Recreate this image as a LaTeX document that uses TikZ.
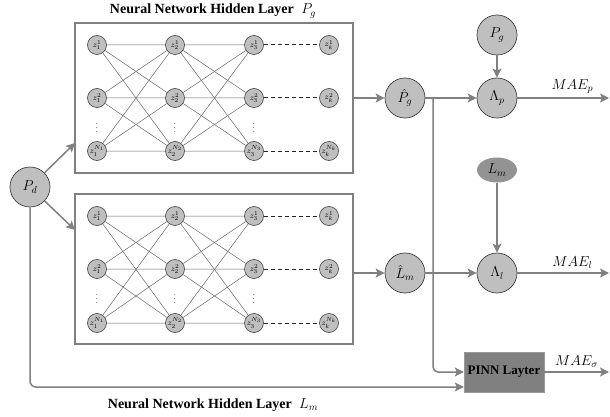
\documentclass[tikz,border=0pt]{standalone}
\usepackage{amsmath,amssymb}
\usepackage{fontspec}
\newfontfamily\titlefont{Liberation Serif}
\usepackage{tikz}
\usetikzlibrary{arrows.meta,shapes.geometric,calc}

\tikzset{
	zn/.style={circle, draw=black!75, fill=gray!50, line width=0.6pt, minimum size=19pt, inner sep=0pt, font=\fontsize{8}{8}\selectfont},
	bignode/.style={circle, draw=black!75, fill=gray!50, line width=0.7pt, minimum size=40pt, inner sep=0pt, font=\fontsize{14}{16}\selectfont},
	netbox/.style={draw=gray, line width=1.3pt, minimum width=278pt, minimum height=150pt},
	link/.style={draw=black!60, line width=0.5pt},
	dashlink/.style={draw=black!85, line width=1pt, dash pattern=on 4pt off 3pt},
	flow/.style={draw=gray, line width=1.5pt, -{Stealth[length=9pt,width=9pt,inset=2pt]}},
	maelabel/.style={font=\fontsize{14}{16}\selectfont},
}

\begin{document}
\begin{tikzpicture}[x=1pt,y=-1pt]
	\useasboundingbox (0,0) rectangle (610,417);

	% Boxes round the two hidden layers
	\node[netbox] (boxg) at (214,98) {};
	\node[netbox] (boxl) at (214,269) {};
	\node[font=\titlefont\bfseries\fontsize{14}{16}\selectfont] (titleg) at (213,11) {Neural Network Hidden Layer \;$P_g$};
	\node[font=\titlefont\bfseries\fontsize{14}{16}\selectfont] (titlel) at (213,405) {Neural Network Hidden Layer \;$L_m$};

	% Network for P_g
	\node[zn] (g11) at (97,45) {$z_1^1$};
	\node[zn] (g12) at (97,98) {$z_1^2$};
	\node[zn] (g1n) at (97,151) {$z_1^{N_1}$};
	\node[zn] (g21) at (175,45) {$z_2^1$};
	\node[zn] (g22) at (175,98) {$z_2^2$};
	\node[zn] (g2n) at (175,151) {$z_2^{N_2}$};
	\node[zn] (g31) at (254,45) {$z_3^1$};
	\node[zn] (g32) at (254,98) {$z_3^2$};
	\node[zn] (g3n) at (254,151) {$z_3^{N_3}$};
	\node[zn] (gk1) at (329,45) {$z_k^1$};
	\node[zn] (gk2) at (329,98) {$z_k^2$};
	\node[zn] (gkn) at (329,151) {$z_k^{N_k}$};
	\node[font=\small] (gd1) at (97,125) {$\vdots$};
	\node[font=\small] (gd2) at (175,125) {$\vdots$};
	\node[font=\small] (gd3) at (254,125) {$\vdots$};
	\draw[link] (g11) -- (g21) (g11) -- (g22) (g11) -- (g2n);
	\draw[link] (g12) -- (g21) (g12) -- (g22) (g12) -- (g2n);
	\draw[link] (g1n) -- (g21) (g1n) -- (g22) (g1n) -- (g2n);
	\draw[link] (g21) -- (g31) (g21) -- (g32) (g21) -- (g3n);
	\draw[link] (g22) -- (g31) (g22) -- (g32) (g22) -- (g3n);
	\draw[link] (g2n) -- (g31) (g2n) -- (g32) (g2n) -- (g3n);
	\draw[dashlink] (g31) -- (gk1);
	\draw[dashlink] (g32) -- (gk2);
	\draw[dashlink] (g3n) -- (gkn);

	% Network for L_m
	\node[zn] (l11) at (97,216) {$z_1^1$};
	\node[zn] (l12) at (97,269) {$z_1^2$};
	\node[zn] (l1n) at (97,323) {$z_1^{N_1}$};
	\node[zn] (l21) at (175,216) {$z_2^1$};
	\node[zn] (l22) at (175,269) {$z_2^2$};
	\node[zn] (l2n) at (175,323) {$z_2^{N_2}$};
	\node[zn] (l31) at (254,216) {$z_3^1$};
	\node[zn] (l32) at (254,269) {$z_3^2$};
	\node[zn] (l3n) at (254,323) {$z_3^{N_3}$};
	\node[zn] (lk1) at (329,216) {$z_k^1$};
	\node[zn] (lk2) at (329,269) {$z_k^2$};
	\node[zn] (lkn) at (329,323) {$z_k^{N_k}$};
	\node[font=\small] (ld1) at (97,296) {$\vdots$};
	\node[font=\small] (ld2) at (175,296) {$\vdots$};
	\node[font=\small] (ld3) at (254,296) {$\vdots$};
	\draw[link] (l11) -- (l21) (l11) -- (l22) (l11) -- (l2n);
	\draw[link] (l12) -- (l21) (l12) -- (l22) (l12) -- (l2n);
	\draw[link] (l1n) -- (l21) (l1n) -- (l22) (l1n) -- (l2n);
	\draw[link] (l21) -- (l31) (l21) -- (l32) (l21) -- (l3n);
	\draw[link] (l22) -- (l31) (l22) -- (l32) (l22) -- (l3n);
	\draw[link] (l2n) -- (l31) (l2n) -- (l32) (l2n) -- (l3n);
	\draw[dashlink] (l31) -- (lk1);
	\draw[dashlink] (l32) -- (lk2);
	\draw[dashlink] (l3n) -- (lkn);

	% Inputs, outputs and losses
	\node[bignode] (pd) at (30,187) {$P_d$};
	\node[bignode] (phatg) at (405,98) {$\hat{P}_g$};
	\node[bignode] (lhatm) at (405,273) {$\hat{L}_m$};
	\node[bignode] (pg) at (497,35) {$P_g$};
	\node[bignode] (lamp) at (497,98) {$\Lambda_p$};
	\node[bignode] (laml) at (497,273) {$\Lambda_l$};
	\node[ellipse, fill=gray!85, minimum width=40pt, minimum height=25pt, inner sep=0pt, font=\fontsize{14}{16}\selectfont] (lm) at (497,170) {$L_m$};
	\node[draw=gray!80, fill=gray, minimum width=80pt, minimum height=40pt, inner sep=0pt, font=\titlefont\bfseries\fontsize{13}{15}\selectfont] (pinn) at (504,372) {PINN Layter};

	\coordinate (ing) at (75,143);
	\coordinate (inl) at (75,230);
	\coordinate (jn) at (433,98);
	\coordinate (outp) at (609,98);
	\coordinate (outl) at (609,273);
	\coordinate (outs) at (609,372);

	% Connectors
	\draw[flow] (pd) -- (ing);
	\draw[flow] (pd) -- (inl);
	\draw[flow] (boxg.east) -- (phatg);
	\draw[flow] (boxl.east |- lhatm) -- (lhatm);
	\draw[flow] (phatg) -- (lamp);
	\draw[flow] (lhatm) -- (laml);
	\draw[flow] (pg) -- (lamp);
	\draw[flow] (lm) -- (laml);
	\draw[flow, rounded corners=5pt] (jn) |- (pinn.west);
	\draw[flow, rounded corners=6pt] (pd) |- ([yshift=-15pt]pinn.west);
	\draw[flow] (lamp) -- (outp) node[maelabel, pos=0.6, above] {$MAE_p$};
	\draw[flow] (laml) -- (outl) node[maelabel, pos=0.6, above] {$MAE_l$};
	\draw[flow] (pinn) -- (outs) node[maelabel, pos=0.5, above] {$MAE_\sigma$};
\end{tikzpicture}
\end{document}
